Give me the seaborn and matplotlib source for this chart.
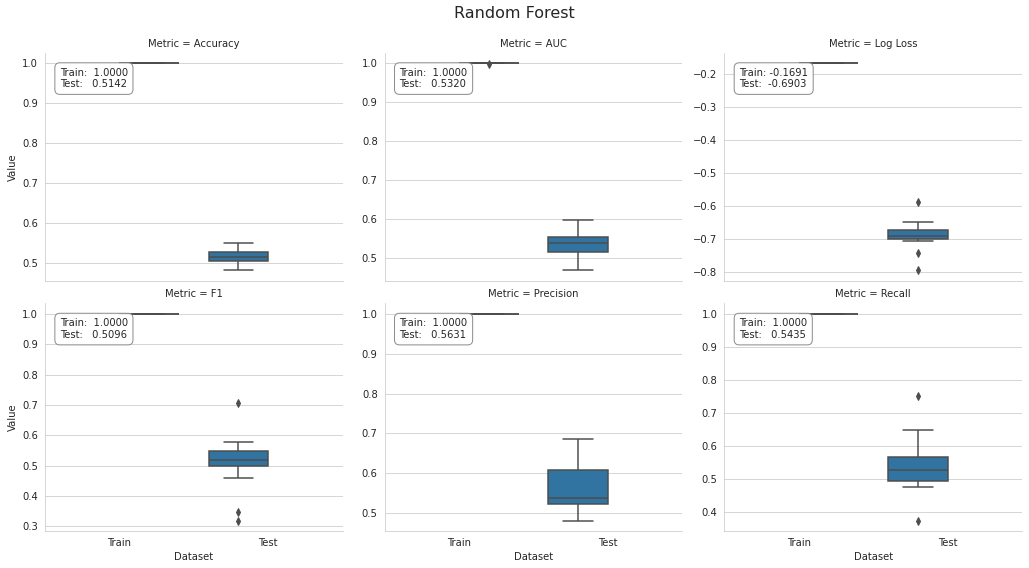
import matplotlib
matplotlib.use("Agg")
import matplotlib.pyplot as plt
import seaborn as sns
import pandas as pd

# facets and categories
metrics = ["Accuracy", "AUC", "Log Loss", "F1", "Precision", "Recall"]
datasets = ["Train", "Test"]

# per-fold scores (20 folds)
acc_train = [1.0, 1.0, 1.0, 1.0, 1.0, 1.0, 1.0, 1.0, 1.0, 1.0, 1.0, 1.0, 1.0, 1.0, 1.0, 1.0, 1.0, 1.0, 1.0, 1.0]
acc_test = [0.481, 0.486, 0.490, 0.497, 0.504, 0.505, 0.508, 0.510, 0.512, 0.514,
            0.516, 0.518, 0.521, 0.524, 0.527, 0.529, 0.529, 0.530, 0.535, 0.548]

auc_train = [1.0, 1.0, 1.0, 1.0, 1.0, 1.0, 1.0, 1.0, 1.0, 1.0, 1.0, 1.0, 1.0, 1.0, 1.0, 1.0, 1.0, 1.0, 1.0, 0.9995]
auc_test = [0.468, 0.472, 0.482, 0.495, 0.514, 0.515, 0.520, 0.526, 0.531, 0.535,
            0.539, 0.542, 0.545, 0.549, 0.553, 0.554, 0.560, 0.562, 0.580, 0.598]

logloss_train = [-0.1691, -0.1691, -0.1691, -0.1691, -0.1691, -0.1691, -0.1691, -0.1691, -0.1691, -0.1691,
                 -0.1691, -0.1691, -0.1691, -0.1691, -0.1691, -0.1691, -0.1691, -0.1691, -0.1691, -0.1691]
logloss_test = [-0.794, -0.743, -0.705, -0.705, -0.700, -0.700, -0.700, -0.699, -0.695, -0.691,
                -0.689, -0.689, -0.686, -0.680, -0.674, -0.674, -0.674, -0.672, -0.648, -0.587]

f1_train = [1.0, 1.0, 1.0, 1.0, 1.0, 1.0, 1.0, 1.0, 1.0, 1.0, 1.0, 1.0, 1.0, 1.0, 1.0, 1.0, 1.0, 1.0, 1.0, 1.0]
f1_test = [0.319, 0.347, 0.460, 0.465, 0.497, 0.498, 0.499, 0.502, 0.508, 0.516,
           0.520, 0.522, 0.525, 0.532, 0.548, 0.550, 0.550, 0.552, 0.579, 0.705]

prec_train = [1.0, 1.0, 1.0, 1.0, 1.0, 1.0, 1.0, 1.0, 1.0, 1.0, 1.0, 1.0, 1.0, 1.0, 1.0, 1.0, 1.0, 1.0, 1.0, 1.0]
prec_test = [0.481, 0.495, 0.506, 0.515, 0.522, 0.523, 0.527, 0.531, 0.535, 0.538,
             0.540, 0.556, 0.571, 0.585, 0.607, 0.610, 0.628, 0.645, 0.662, 0.685]

rec_train = [1.0, 1.0, 1.0, 1.0, 1.0, 1.0, 1.0, 1.0, 1.0, 1.0, 1.0, 1.0, 1.0, 1.0, 1.0, 1.0, 1.0, 1.0, 1.0, 1.0]
rec_test = [0.375, 0.477, 0.484, 0.492, 0.494, 0.495, 0.508, 0.518, 0.524, 0.526,
            0.532, 0.548, 0.555, 0.563, 0.566, 0.569, 0.610, 0.635, 0.648, 0.751]

# mean scores shown in the boxes
train_means = [1.0000, 1.0000, -0.1691, 1.0000, 1.0000, 1.0000]
test_means = [0.5142, 0.5320, -0.6903, 0.5096, 0.5631, 0.5435]

train_vals = [acc_train, auc_train, logloss_train, f1_train, prec_train, rec_train]
test_vals = [acc_test, auc_test, logloss_test, f1_test, prec_test, rec_test]

rows = []
for m, tr, te in zip(metrics, train_vals, test_vals):
    for v in tr:
        rows.append((m, "Train", v))
    for v in te:
        rows.append((m, "Test", v))
df = pd.DataFrame(rows, columns=["Metric", "Dataset", "Value"])

sns.set_style("whitegrid")
plt.rcParams.update({
    "font.size": 10,
    "axes.titlesize": 10,
    "axes.labelsize": 10,
    "xtick.labelsize": 10,
    "ytick.labelsize": 10,
})

g = sns.catplot(
    data=df, x="Dataset", y="Value", hue="Dataset",
    col="Metric", col_wrap=3, col_order=metrics,
    order=datasets, hue_order=["Test", "Train"],
    kind="box", dodge=True, sharey=False, legend=False,
    height=4, aspect=1.2,
    linecolor=".3", linewidth=1.5,
    flierprops=dict(marker="d", markerfacecolor=".3", markeredgecolor=".3", markersize=5),
)

fig = g.figure
fig.set_size_inches(1029 / 72, 568 / 72)
fig.subplots_adjust(left=0.0437, right=0.9932, bottom=0.0651, top=0.9067,
                    wspace=0.141, hspace=0.101)

for ax, tr, te in zip(g.axes.flat, train_means, test_means):
    ax.text(0.05, 0.935, f"Train: {tr:7.4f}\nTest:  {te:7.4f}",
            transform=ax.transAxes, va="top", ha="left", fontsize=10,
            bbox=dict(boxstyle="round,pad=0.5", facecolor="white", edgecolor="gray", alpha=0.9))

fig.suptitle("Random Forest", fontsize=16, y=0.99)
fig.savefig("out.png", dpi=72)
